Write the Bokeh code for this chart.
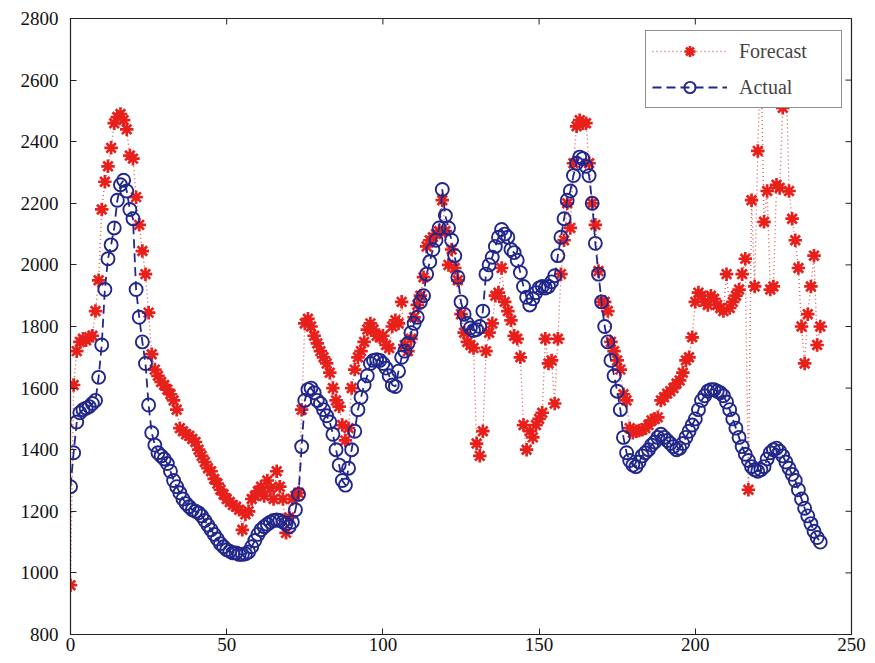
from bokeh.plotting import figure
from bokeh.models import Range1d, Legend, LegendItem, FixedTicker
from bokeh.embed import file_html
from bokeh.resources import INLINE

# ---- data ----
x_index = list(range(0, 241))

actual = [
    1280, 1390, 1490, 1520, 1530, 1535, 1540, 1550, 1560, 1635,
    1740, 1920, 2020, 2065, 2120, 2210, 2260, 2275, 2240, 2180,
    2150, 1920, 1830, 1750, 1680, 1545, 1455, 1415, 1390, 1380,
    1370, 1355, 1330, 1300, 1280, 1260, 1240, 1225, 1215, 1205,
    1200, 1195, 1185, 1170, 1155, 1140, 1125, 1110, 1095, 1085,
    1075, 1070, 1065, 1065, 1060, 1060, 1062, 1068, 1085, 1105,
    1125, 1140, 1150, 1158, 1165, 1170, 1172, 1170, 1165, 1160,
    1150, 1165, 1205, 1255, 1410, 1560, 1595, 1600, 1585, 1560,
    1550, 1530, 1510, 1490, 1450, 1400, 1350, 1300, 1285, 1340,
    1400, 1460, 1530, 1570, 1610, 1640, 1680, 1690, 1692, 1690,
    1680, 1665, 1640, 1610, 1605, 1655, 1700, 1720, 1745, 1780,
    1810, 1830, 1880, 1900, 1970, 2010, 2050, 2080, 2120, 2245,
    2160, 2120, 2080, 2030, 1960, 1880, 1840, 1810, 1795, 1787,
    1790, 1800, 1850, 1970, 2000, 2025, 2060, 2090, 2115, 2100,
    2090, 2050, 2040, 2015, 1975, 1930, 1895, 1870, 1890, 1910,
    1925, 1930, 1925, 1930, 1945, 1965, 2030, 2090, 2150, 2210,
    2240, 2290, 2330, 2350, 2345, 2320, 2290, 2200, 2070, 1970,
    1880, 1800, 1750, 1690, 1640, 1590, 1530, 1440, 1390, 1365,
    1350, 1345, 1360, 1380, 1390, 1400, 1415, 1425, 1440, 1450,
    1440, 1430, 1420, 1410, 1400, 1405, 1420, 1440, 1460, 1480,
    1500, 1530, 1560, 1575, 1590, 1595, 1595, 1590, 1585, 1575,
    1555, 1530, 1500, 1470, 1440, 1410, 1385, 1365, 1345, 1335,
    1330, 1335, 1345, 1370, 1390, 1400, 1405, 1395, 1380, 1360,
    1340, 1320, 1300, 1270, 1240, 1210, 1185, 1160, 1135, 1115, 1100,
]

forecast = [
    960, 1610, 1720, 1750, 1760, 1755, 1765, 1770, 1850, 1950,
    2180, 2270, 2320, 2380, 2460, 2480, 2490, 2470, 2440, 2355,
    2345, 2220, 2130, 2045, 1970, 1845, 1710, 1660, 1640, 1620,
    1610, 1595, 1580, 1560, 1530, 1470, 1460, 1450, 1445, 1435,
    1425, 1400, 1380, 1360, 1340, 1330, 1305, 1290, 1270, 1255,
    1240, 1230, 1220, 1215, 1205, 1140, 1190, 1200, 1240, 1250,
    1265, 1280, 1250, 1300, 1275, 1240, 1330, 1280, 1240, 1130,
    1180, 1240, 1250, 1260, 1530, 1810, 1825, 1800, 1770, 1745,
    1720, 1700, 1680, 1650, 1600, 1560, 1540, 1480, 1430, 1470,
    1600, 1660, 1700, 1720, 1750, 1790, 1810, 1790, 1770, 1765,
    1770, 1740, 1730, 1800, 1820, 1810, 1880, 1740, 1720, 1760,
    1830, 1870, 1900, 1960, 2060, 2080, 2090, 2100, 2110, 2210,
    2110, 2000, 2050, 1990, 1950, 1840, 1780, 1750, 1740, 1730,
    1420, 1380, 1460, 1720, 1780, 1810, 1900, 1910, 1990, 1880,
    1850, 1820, 1770, 1760, 1700, 1480, 1400, 1460, 1440, 1480,
    1500, 1520, 1760, 1680, 1690, 1550, 1760, 1970, 2080, 2200,
    2120, 2330, 2450, 2470, 2460, 2460, 2330, 2200, 2130, 1980,
    1880, 1880, 1850, 1750, 1720, 1690, 1660, 1580, 1560, 1470,
    1455, 1460, 1462, 1465, 1470, 1480, 1495, 1500, 1505, 1560,
    1570, 1582, 1590, 1600, 1615, 1625, 1650, 1690, 1700, 1765,
    1880, 1910, 1900, 1880, 1870, 1900, 1890, 1870, 1860, 1850,
    1970, 1860, 1880, 1900, 1920, 1970, 2020, 1270, 2210, 1930,
    2370, 2700, 2140, 2240, 1920, 1930, 2260, 2250, 2510, 2650,
    2240, 2150, 2080, 1990, 1800, 1680, 1840, 1930, 2030, 1740, 1800,
]

x_ticks = [0, 50, 100, 150, 200, 250]
y_ticks = [800, 1000, 1200, 1400, 1600, 1800, 2000, 2200, 2400, 2600, 2800]
series_names = ["Forecast", "Actual"]

RED = "#e8201c"
RED_LINE = "#d9605e"
BLUE = "#22278c"
AXC = "#222222"
FONT = "Liberation Serif"

X0, X1, Y0, Y1 = 0, 250, 800, 2800
FW, FH = 781, 616

p = figure(
    frame_width=FW, frame_height=FH,
    x_range=Range1d(X0, X1), y_range=Range1d(Y0, Y1),
    output_backend="svg", toolbar_location=None,
    min_border_left=70, min_border_top=18, min_border_right=16, min_border_bottom=26,
    background_fill_color="white", border_fill_color="white",
)
p.grid.visible = False
p.outline_line_color = AXC
p.outline_line_width = 1.2

for ax in (p.xaxis[0], p.yaxis[0]):
    ax.major_tick_in = 6
    ax.major_tick_out = 0
    ax.minor_tick_line_color = None
    ax.axis_line_color = AXC
    ax.major_tick_line_color = AXC
    ax.major_label_text_font = FONT
    ax.major_label_text_font_size = "19px"
    ax.major_label_text_color = "#111111"
p.xaxis[0].ticker = FixedTicker(ticks=x_ticks)
p.yaxis[0].ticker = FixedTicker(ticks=y_ticks)
p.xaxis[0].major_label_standoff = 3
p.yaxis[0].major_label_standoff = 12

# mirrored inward ticks on the top and right edges of the box
tx = 6 * (X1 - X0) / FW   # 6 px expressed in x data units
ty = 6 * (Y1 - Y0) / FH   # 6 px expressed in y data units
p.segment(x0=x_ticks, y0=[Y1] * len(x_ticks), x1=x_ticks, y1=[Y1 - ty] * len(x_ticks),
          line_color=AXC, line_width=1)
p.segment(x0=[X1] * len(y_ticks), y0=y_ticks, x1=[X1 - tx] * len(y_ticks), y1=y_ticks,
          line_color=AXC, line_width=1)

# forecast: dotted line + asterisk markers
f_line = p.line(x_index, forecast, line_color=RED_LINE, line_width=1.4, line_dash="1 3")
f_mark = p.scatter(x_index, forecast, marker="asterisk", size=13.5, line_color=RED, line_width=2.7)

# actual: dashed line + open circles
a_line = p.line(x_index, actual, line_color=BLUE, line_width=1.8, line_dash="9 5")
a_mark = p.scatter(x_index, actual, marker="circle", size=13, fill_color=None,
                   line_color=BLUE, line_width=1.9)

legend = Legend(
    items=[LegendItem(label=series_names[0], renderers=[f_line, f_mark]),
           LegendItem(label=series_names[1], renderers=[a_line, a_mark])],
    location=(575, 526),
    label_text_font=FONT, label_text_font_size="20px",
    glyph_width=75, glyph_height=28, label_height=28, label_width=96,
    label_standoff=12, padding=6, spacing=8,
    border_line_color=AXC, border_line_width=1.2,
    background_fill_color="white", background_fill_alpha=1.0,
)
p.add_layout(legend, "center")

open("out.html", "w").write(file_html(p, INLINE))
